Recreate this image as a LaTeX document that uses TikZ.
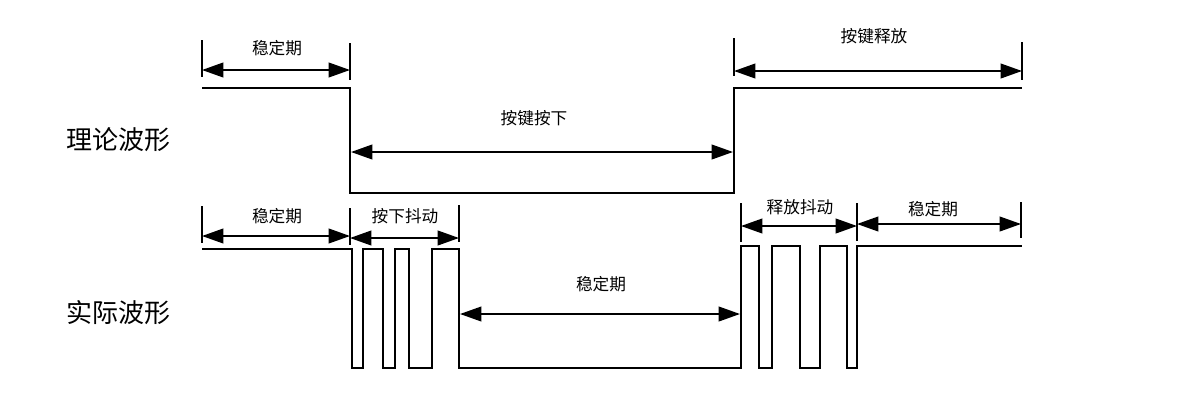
\documentclass[tikz,border=0pt]{standalone}
\usepackage{fontspec}
\setmainfont{Noto Sans CJK SC}
\usetikzlibrary{arrows.meta}
\begin{document}
\begin{tikzpicture}[x=0.75pt,y=-0.75pt,
  wave/.style={line width=1.6pt,line join=miter},
  tick/.style={line width=1.2pt},
  dim/.style={line width=1.4pt,{Triangle[length=16pt,width=11pt]}-{Triangle[length=16pt,width=11pt]}},
  lbl/.style={font=\fontsize{12.5}{14}\selectfont,inner sep=0pt},
  big/.style={font=\fontsize{19.5}{22}\selectfont,inner sep=0pt}]
\useasboundingbox (0,0) rectangle (1184,404);
% side labels
\node[big] (th) at (118,140) {理论波形};
\node[big] (re) at (118,313) {实际波形};
% theoretical waveform
\draw[wave] (202,88) -- (350,88) -- (350,193) -- (734,193) -- (734,88) -- (1022,88);
% top ticks
\coordinate (t1a) at (202,40); \coordinate (t1b) at (202,77);
\coordinate (t2a) at (350,43); \coordinate (t2b) at (350,80);
\coordinate (t3a) at (734,38); \coordinate (t3b) at (734,76);
\coordinate (t4a) at (1022,42); \coordinate (t4b) at (1022,80);
\draw[tick] (t1a) -- (t1b); \draw[tick] (t2a) -- (t2b);
\draw[tick] (t3a) -- (t3b); \draw[tick] (t4a) -- (t4b);
\coordinate (a1l) at (202,70); \coordinate (a1r) at (350,70);
\draw[dim] (a1l) -- (a1r);
\node[lbl] (l1) at (277,48) {稳定期};
\coordinate (a2l) at (351,152); \coordinate (a2r) at (733,152);
\draw[dim] (a2l) -- (a2r);
\node[lbl] (l2) at (534,118) {按键按下};
\coordinate (a3l) at (734,71); \coordinate (a3r) at (1022,71);
\draw[dim] (a3l) -- (a3r);
\node[lbl] (l3) at (874,36) {按键释放};
% actual waveform
\draw[wave] (202,249) -- (352,249) -- (352,368) -- (363,368) -- (363,249) -- (383,249) -- (383,368)
  -- (395,368) -- (395,249) -- (409,249) -- (409,368) -- (432,368) -- (432,249) -- (459,249)
  -- (459,368) -- (741,368) -- (741,246) -- (759,246) -- (759,368) -- (772,368) -- (772,246)
  -- (800,246) -- (800,368) -- (820,368) -- (820,246) -- (847,246) -- (847,368) -- (857,368)
  -- (857,246) -- (1022,246);
% bottom ticks
\coordinate (b1a) at (202,206); \coordinate (b1b) at (202,243);
\coordinate (b2a) at (350,208); \coordinate (b2b) at (350,245);
\coordinate (b3a) at (459,205); \coordinate (b3b) at (459,242);
\coordinate (b4a) at (741,203); \coordinate (b4b) at (741,242);
\coordinate (b5a) at (857,203); \coordinate (b5b) at (857,241);
\coordinate (b6a) at (1021,202); \coordinate (b6b) at (1021,238);
\foreach \p in {b1,b2,b3,b4,b5,b6} \draw[tick] (\p a) -- (\p b);
\coordinate (c1l) at (202,236); \coordinate (c1r) at (350,236);
\draw[dim] (c1l) -- (c1r);
\node[lbl] (m1) at (277,216) {稳定期};
\coordinate (c2l) at (350,238); \coordinate (c2r) at (459,238);
\draw[dim] (c2l) -- (c2r);
\node[lbl] (m2) at (405,216) {按下抖动};
\coordinate (c3l) at (460,314); \coordinate (c3r) at (740,314);
\draw[dim] (c3l) -- (c3r);
\node[lbl] (m3) at (601,284) {稳定期};
\coordinate (c4l) at (741,226); \coordinate (c4r) at (857,226);
\draw[dim] (c4l) -- (c4r);
\node[lbl] (m4) at (800,207) {释放抖动};
\coordinate (c5l) at (857,224); \coordinate (c5r) at (1021,224);
\draw[dim] (c5l) -- (c5r);
\node[lbl] (m5) at (933,209) {稳定期};
\end{tikzpicture}
\end{document}
